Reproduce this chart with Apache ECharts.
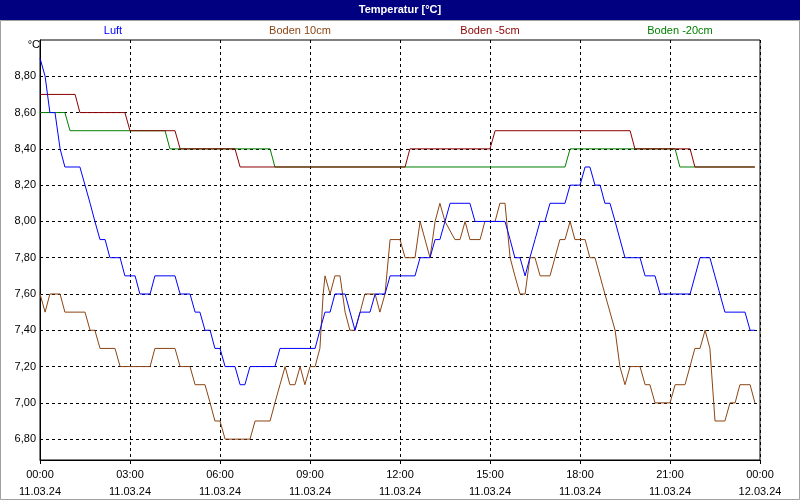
<!DOCTYPE html>
<html><head><meta charset="utf-8">
<script src="https://cdn.jsdelivr.net/npm/echarts@6/dist/echarts.min.js"></script>
<style>html,body{margin:0;padding:0;background:#fff}#c{width:800px;height:500px}</style>
</head><body><div id="c"></div>
<script>
const seriesNames = ['Luft','Boden 10cm','Boden -5cm','Boden -20cm'];
const yTicks = [6.8,7.0,7.2,7.4,7.6,7.8,8.0,8.2,8.4,8.6,8.8];
const xTicks = [0,3,6,9,12,15,18,21,24];
const luft = [[0,8.9],[0.17,8.8],[0.33,8.6],[0.5,8.6],[0.67,8.4],[0.83,8.3],[1.33,8.3],[1.5,8.2],[1.67,8.1],[1.83,8.0],[2.0,7.9],[2.17,7.9],[2.33,7.8],[2.67,7.8],[2.83,7.7],[3.17,7.7],[3.33,7.6],[3.67,7.6],[3.83,7.7],[4.5,7.7],[4.67,7.6],[5.0,7.6],[5.17,7.5],[5.33,7.5],[5.5,7.4],[5.67,7.4],[5.83,7.3],[6.0,7.3],[6.17,7.2],[6.5,7.2],[6.67,7.1],[6.83,7.1],[7.0,7.2],[7.83,7.2],[8.0,7.3],[9.17,7.3],[9.33,7.4],[9.5,7.5],[9.67,7.5],[9.83,7.6],[10.17,7.6],[10.5,7.4],[10.67,7.5],[11.0,7.5],[11.17,7.6],[11.5,7.6],[11.67,7.7],[12.5,7.7],[12.67,7.8],[13.0,7.8],[13.17,7.9],[13.33,7.9],[13.5,8.0],[13.67,8.1],[14.33,8.1],[14.5,8.0],[15.5,8.0],[15.67,7.9],[15.83,7.8],[16.0,7.8],[16.17,7.7],[16.33,7.8],[16.5,7.9],[16.67,8.0],[16.83,8.0],[17.0,8.1],[17.5,8.1],[17.67,8.2],[18.0,8.2],[18.17,8.3],[18.33,8.3],[18.5,8.2],[18.67,8.2],[18.83,8.1],[19.0,8.1],[19.17,8.0],[19.5,7.8],[20.0,7.8],[20.17,7.7],[20.5,7.7],[20.67,7.6],[21.67,7.6],[22.0,7.8],[22.33,7.8],[22.83,7.5],[23.5,7.5],[23.67,7.4],[23.83,7.4]];
const boden10 = [[0,7.6],[0.17,7.5],[0.33,7.6],[0.67,7.6],[0.83,7.5],[1.5,7.5],[1.67,7.4],[1.83,7.4],[2.0,7.3],[2.5,7.3],[2.67,7.2],[3.67,7.2],[3.83,7.3],[4.5,7.3],[4.67,7.2],[5.0,7.2],[5.17,7.1],[5.5,7.1],[5.67,7.0],[5.83,6.9],[6.0,6.9],[6.17,6.8],[7.0,6.8],[7.17,6.9],[7.67,6.9],[7.83,7.0],[8.0,7.1],[8.17,7.2],[8.33,7.1],[8.5,7.1],[8.67,7.2],[8.83,7.1],[9.0,7.2],[9.17,7.2],[9.33,7.3],[9.44,7.6],[9.5,7.7],[9.67,7.6],[9.83,7.7],[10.0,7.7],[10.17,7.5],[10.33,7.4],[10.5,7.4],[10.67,7.5],[10.83,7.6],[11.17,7.6],[11.33,7.5],[11.5,7.6],[11.67,7.9],[12.0,7.9],[12.17,7.8],[12.5,7.8],[12.67,8.0],[13.0,7.8],[13.17,8.0],[13.33,8.1],[13.5,8.0],[13.83,7.9],[14.0,7.9],[14.17,8.0],[14.33,7.9],[14.67,7.9],[14.83,8.0],[15.17,8.0],[15.33,8.1],[15.5,8.1],[15.67,7.8],[15.83,7.7],[16.0,7.6],[16.17,7.6],[16.33,7.8],[16.5,7.8],[16.67,7.7],[17.0,7.7],[17.33,7.9],[17.5,7.9],[17.67,8.0],[17.83,7.9],[18.17,7.9],[18.33,7.8],[18.5,7.8],[18.83,7.6],[19.17,7.4],[19.33,7.2],[19.5,7.1],[19.67,7.2],[20.0,7.2],[20.17,7.1],[20.33,7.1],[20.5,7.0],[21.0,7.0],[21.17,7.1],[21.5,7.1],[21.83,7.3],[22.0,7.3],[22.17,7.4],[22.33,7.3],[22.5,6.9],[22.83,6.9],[23.0,7.0],[23.17,7.0],[23.33,7.1],[23.67,7.1],[23.83,7.0]];
const boden5 = [[0,8.7],[1.17,8.7],[1.33,8.6],[2.83,8.6],[3.0,8.5],[4.5,8.5],[4.67,8.4],[6.5,8.4],[6.67,8.3],[12.17,8.3],[12.33,8.4],[15.0,8.4],[15.17,8.5],[19.67,8.5],[19.83,8.4],[21.67,8.4],[21.83,8.3],[23.83,8.3]];
const boden20 = [[0,8.6],[0.83,8.6],[1.0,8.5],[4.17,8.5],[4.33,8.4],[7.67,8.4],[7.83,8.3],[17.5,8.3],[17.67,8.4],[21.17,8.4],[21.33,8.3],[23.83,8.3]];
const colors = ['#0000ff','#8b4513','#8b0000','#008000'];
const font = 'Liberation Sans';
const ch = echarts.init(document.getElementById('c'));
const fmtX = v => { const h = v % 24; return (h<10?'0':'')+h+':00\n'+(v>=24?'12.03.24':'11.03.24'); };
ch.setOption({
  animation:false,
  backgroundColor:'#fff',
  textStyle:{fontFamily:font},
  graphic:[
    {type:'rect',shape:{x:0,y:0,width:800,height:20},style:{fill:'#000080'},silent:true},
    {type:'text',x:400,y:10,style:{text:'Temperatur [°C]',fill:'#fff',font:'bold 11px '+font,align:'center',verticalAlign:'middle'}},
    {type:'rect',shape:{x:0.5,y:20.5,width:799,height:479},style:{fill:'none',stroke:'#a0a0a0'},silent:true},
    {type:'text',x:40,y:45,style:{text:'°C',fill:'#000',font:'11px '+font,align:'right',verticalAlign:'middle'}},
    ...seriesNames.map((n,i)=>({type:'text',x:[113,300,490,680][i],y:31,style:{text:n,fill:colors[i],font:'11px '+font,align:'center',verticalAlign:'middle'}}))
  ],
  grid:{left:40,right:40,top:40,bottom:38,show:true,borderColor:'#000',borderWidth:1,backgroundColor:'#fff'},
  xAxis:{type:'value',min:0,max:24,interval:3,
    axisLine:{lineStyle:{color:'#000'}},axisTick:{show:true,length:4,lineStyle:{color:'#000'}},
    axisLabel:{formatter:fmtX,color:'#000',fontSize:11,lineHeight:17,margin:6,fontFamily:font},
    splitLine:{show:true,lineStyle:{color:'#000',type:[3,3]}}},
  yAxis:{type:'value',min:6.685,max:9.0,axisLabel:{show:false},axisTick:{show:false},splitLine:{show:false},
    axisLine:{show:true,lineStyle:{color:'#000'}}},
  series:[luft,boden10,boden5,boden20].map((d,i)=>({
    name:seriesNames[i],type:'line',data:d,showSymbol:false,symbol:'none',
    lineStyle:{color:colors[i],width:1},z:10-i,
    markLine: i===0 ? {silent:true,symbol:'none',z:1,
      lineStyle:{color:'#000',type:[3,3],width:1},
      label:{position:'start',formatter:p=>p.value.toFixed(2).replace('.',','),color:'#000',fontSize:11,fontFamily:font,distance:4},
      data:yTicks.map(v=>({yAxis:v}))} : undefined
  })).reverse()
});
</script></body></html>
